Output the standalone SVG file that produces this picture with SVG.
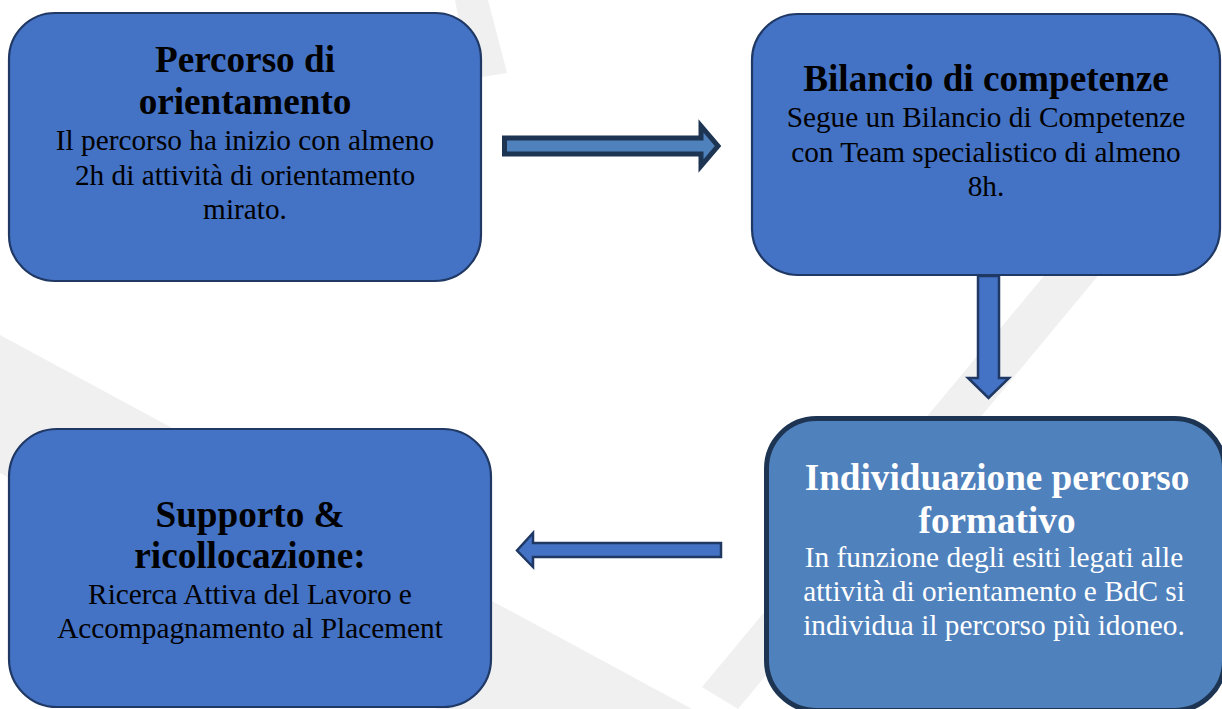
<svg xmlns="http://www.w3.org/2000/svg" width="1222" height="709" viewBox="0 0 1222 709">
<style>
.bg{fill:#f0f0f0;stroke:none}
.box{fill:#4472c4;stroke:#1f3864;stroke-width:2.2}
.box3{fill:#4f81bd;stroke:#1d3452;stroke-width:5}
.t{font-family:"Liberation Serif","Times New Roman",serif;text-anchor:middle;fill:#000}
.h{font-size:37.2px;font-weight:bold}
.b{font-size:29.3px}
.w{fill:#fff}
.arr{fill:#4472c4;stroke:#1f3864;stroke-width:2.5;stroke-linejoin:miter}
.arrA{fill:#4f81bd;stroke:#1d3452;stroke-width:5;stroke-linejoin:miter}
</style>
<rect width="1222" height="709" fill="#fff"/>
<g id="background">
<polygon class="bg" points="455,0 488,0 507,73 470,79"/>
<polygon class="bg" points="0,335 692,709 437,709 0,473"/>
<polygon class="bg" points="1107,200 1161,200 738,709 702,687"/>
</g>
<g id="connectors">
<polygon class="arrA" points="504.5,138 701,138 701,126 718,146 701,166 701,154 504.5,154"/>
<polygon class="arr" points="978,276 999,276 999,378 1009,378 988.5,398 968,378 978,378"/>
<polygon class="arr" points="721,543 533,543 533,533 517,550.5 533,567 533,557 721,557"/>
</g>
<g id="node-orientamento">
<rect class="box" x="9" y="13" width="472" height="268" rx="46" ry="46"/>
<text class="t h" x="245" y="72">Percorso di</text>
<text class="t h" x="245" y="114">orientamento</text>
<text class="t b" x="245" y="150">Il percorso ha inizio con almeno</text>
<text class="t b" x="245" y="185">2h di attività di orientamento</text>
<text class="t b" x="245" y="219">mirato.</text>
</g>
<g id="node-bilancio">
<rect class="box" x="752" y="14" width="468" height="261" rx="46" ry="46"/>
<text class="t h" x="986" y="91">Bilancio di competenze</text>
<text class="t b" x="986" y="127">Segue un Bilancio di Competenze</text>
<text class="t b" x="986" y="162">con Team specialistico di almeno</text>
<text class="t b" x="986" y="196">8h.</text>
</g>
<g id="node-individuazione">
<rect class="box3" x="766.5" y="418.5" width="458" height="292" rx="50" ry="50"/>
<text class="t h w" x="997" y="490">Individuazione percorso</text>
<text class="t h w" x="997" y="533">formativo</text>
<text class="t b w" x="994" y="567">In funzione degli esiti legati alle</text>
<text class="t b w" x="994" y="601">attività di orientamento e BdC si</text>
<text class="t b w" x="994" y="635">individua il percorso più idoneo.</text>
</g>
<g id="node-supporto">
<rect class="box" x="9" y="429" width="482" height="278" rx="48" ry="48"/>
<text class="t h" x="250" y="527">Supporto &amp;</text>
<text class="t h" x="250" y="568">ricollocazione:</text>
<text class="t b" x="250" y="604">Ricerca Attiva del Lavoro e</text>
<text class="t b" x="250" y="638">Accompagnamento al Placement</text>
</g>
</svg>
